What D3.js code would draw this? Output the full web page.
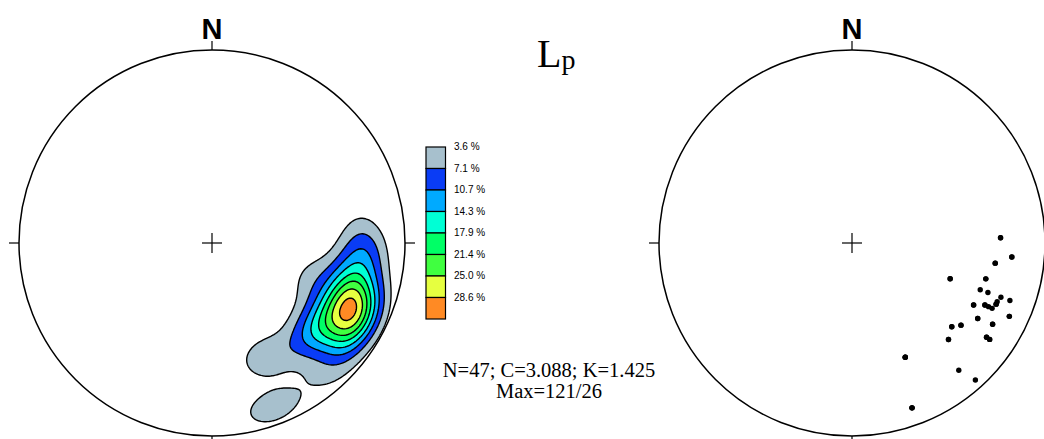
<!DOCTYPE html>
<html>
<head>
<meta charset="utf-8">
<script src="https://cdn.jsdelivr.net/npm/d3@7"></script>
<style>
  body { margin: 0; background: #fff; }
</style>
</head>
<body>
<svg id="chart" width="1044" height="439"></svg>
<script>
// lineations: trend / plunge (deg) (some dots overlap)
const trends = [88, 95, 98, 110, 105, 110, 110, 110, 110, 112, 113, 117, 115, 115, 115, 115, 121, 120, 127, 130, 135, 125, 125, 155, 140, 138, 160,
  115, 113, 117, 121, 120, 160, 160, 155, 155, 125, 135, 130, 127, 110, 98, 88, 95, 125, 105, 115];
const plunges = [24, 18, 26, 45, 29, 30, 26, 19, 14, 20, 20, 30, 25, 23, 21, 11, 25, 17, 30, 33, 30, 16, 14, 35, 15, 5, 10,
  25, 20, 30, 25, 17, 10, 10, 35, 35, 16, 30, 33, 30, 45, 26, 24, 18, 14, 29, 11];

const levels = [3.6, 7.1, 10.7, 14.3, 17.9, 21.4, 25.0, 28.6];
const levelLabels = ["3.6 %", "7.1 %", "10.7 %", "14.3 %", "17.9 %", "21.4 %", "25.0 %", "28.6 %"];
const levelColors = ["#a7c0cd", "#0a3cf5", "#00aaff", "#00ffd5", "#00ff66", "#40ff40", "#e6ff40", "#ff8a24"];
const statLines = ["N=47; C=3.088; K=1.425", "Max=121/26"];

const R = 193;
const nets = [{ cx: 212, cy: 243 }, { cx: 852, cy: 243 }];
const kappa = 54;      // smoothing of the density
const peakPct = 30.5;  // density at the maximum, in %
const n = 240;         // grid size

const svg = d3.select("#chart");
const rad = Math.PI / 180;

// unit vectors (east, north, down)
const vecs = trends.map((t, i) => {
  const T = t * rad, P = plunges[i] * rad;
  return [Math.cos(P) * Math.sin(T), Math.cos(P) * Math.cos(T), Math.sin(P)];
});

// equal-area, lower hemisphere -> unit disk coords
function project(t, p) {
  const rho = Math.SQRT2 * Math.sin((90 - p) * rad / 2);
  return [rho * Math.sin(t * rad), rho * Math.cos(t * rad)];
}

function dirAt(x, y) {
  let r = Math.hypot(x, y);
  if (r > 1) { x /= r; y /= r; r = 1; }
  const th = 2 * Math.asin(r / Math.SQRT2);
  const s = r > 0 ? Math.sin(th) / r : 0;
  return [x * s, y * s, Math.cos(th)];
}

// density grid
const values = new Float64Array(n * n);
for (let j = 0; j < n; j++) {
  for (let i = 0; i < n; i++) {
    const x = -1 + 2 * (i + 0.5) / n;
    const y = 1 - 2 * (j + 0.5) / n;
    const d = dirAt(x, y);
    let s = 0;
    vecs.forEach(v => {
      const c = Math.abs(d[0] * v[0] + d[1] * v[1] + d[2] * v[2]);
      s += Math.exp(kappa * (c - 1));
    });
    values[i + j * n] = s;
  }
}
const vmax = d3.max(values);
for (let k = 0; k < values.length; k++) values[k] = values[k] / vmax * peakPct;

const contours = d3.contours().size([n, n]).thresholds(levels)(values);

// ---- left net: contours
const L = nets[0];
svg.append("clipPath").attr("id", "netclip")
  .append("circle").attr("cx", L.cx).attr("cy", L.cy).attr("r", R);

const path = d3.geoPath(d3.geoIdentity().scale(2 * R / n).translate([L.cx - R, L.cy - R]));

svg.append("g")
  .attr("clip-path", "url(#netclip)")
  .selectAll("path")
  .data(contours)
  .join("path")
  .attr("d", path)
  .attr("fill", (d, i) => levelColors[i])
  .attr("stroke", "#000")
  .attr("stroke-width", 1.4)
  .attr("stroke-linejoin", "round");

// ---- nets frames
nets.forEach(net => {
  const g = svg.append("g");
  g.append("circle")
    .attr("cx", net.cx).attr("cy", net.cy).attr("r", R)
    .attr("fill", "none").attr("stroke", "#000").attr("stroke-width", 1.5);
  // ticks
  [[0, -1], [0, 1], [-1, 0], [1, 0]].forEach(([dx, dy]) => {
    g.append("line")
      .attr("x1", net.cx + dx * R).attr("y1", net.cy + dy * R)
      .attr("x2", net.cx + dx * (R + 10)).attr("y2", net.cy + dy * (R + 9))
      .attr("stroke", "#000").attr("stroke-width", 1.2);
  });
  // centre cross
  g.append("line").attr("x1", net.cx - 10).attr("x2", net.cx + 10)
    .attr("y1", net.cy).attr("y2", net.cy).attr("stroke", "#000").attr("stroke-width", 1.2);
  g.append("line").attr("y1", net.cy - 10).attr("y2", net.cy + 10)
    .attr("x1", net.cx).attr("x2", net.cx).attr("stroke", "#000").attr("stroke-width", 1.2);
  g.append("text")
    .attr("x", net.cx).attr("y", 39)
    .attr("text-anchor", "middle")
    .style("font", "bold 29px 'Liberation Sans', Arial, sans-serif")
    .text("N");
});

// ---- right net: points
const R2 = nets[1];
const xs = d3.scaleLinear().domain([-1, 1]).range([R2.cx - R, R2.cx + R]);
const ys = d3.scaleLinear().domain([-1, 1]).range([R2.cy + R, R2.cy - R]);

svg.append("g")
  .selectAll("circle")
  .data(trends.map((t, i) => project(t, plunges[i])))
  .join("circle")
  .attr("cx", d => xs(d[0]))
  .attr("cy", d => ys(d[1]))
  .attr("r", 2.7)
  .attr("fill", "#000");

// ---- legend
const boxH = 21.5;
const legend = svg.append("g").attr("transform", "translate(426,147)");
legend.selectAll("rect")
  .data(levelColors)
  .join("rect")
  .attr("x", 0)
  .attr("y", (d, i) => i * boxH)
  .attr("width", 19.5)
  .attr("height", boxH)
  .attr("fill", d => d)
  .attr("stroke", "#000")
  .attr("stroke-width", 1.2);
legend.selectAll("text")
  .data(levelLabels)
  .join("text")
  .attr("x", 28)
  .attr("y", (d, i) => i * boxH + 3)
  .style("font", "10px 'Liberation Sans', Arial, sans-serif")
  .text(d => d);

// ---- title
const title = svg.append("text")
  .attr("x", 537).attr("y", 67)
  .style("font-family", "'Liberation Serif', 'Times New Roman', serif");
title.append("tspan").style("font-size", "40px").text("L");
title.append("tspan").style("font-size", "28px").attr("dy", 2).text("p");

// ---- stats
svg.append("g")
  .selectAll("text")
  .data(statLines)
  .join("text")
  .attr("x", 549)
  .attr("y", (d, i) => 377 + i * 21)
  .attr("text-anchor", "middle")
  .style("font", "20.5px 'Liberation Serif', 'Times New Roman', serif")
  .text(d => d);
</script>
</body>
</html>
